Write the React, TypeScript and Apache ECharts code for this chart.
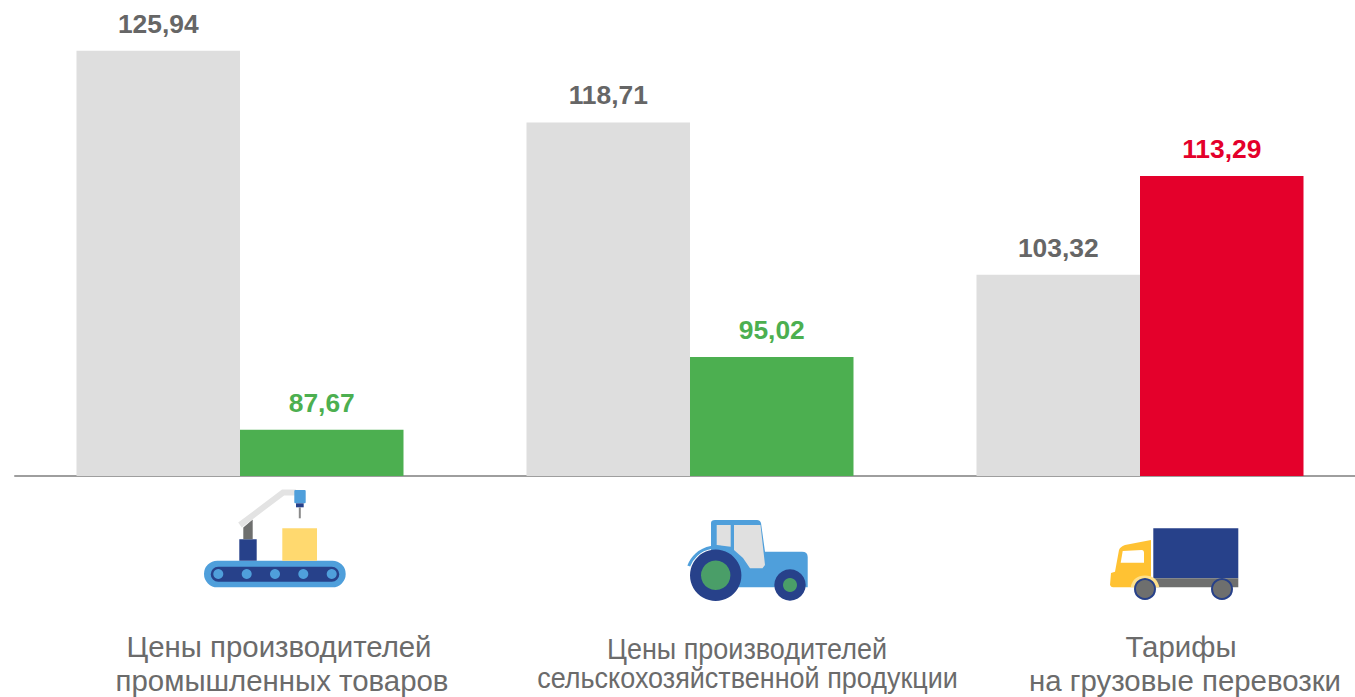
import React, { useEffect, useRef } from "react";
import * as echarts from "echarts";

const categories = ["Промышленность", "Сельское хозяйство", "Грузовые перевозки"];
const baseValues = [125.94, 118.71, 103.32];
const currentValues = [87.67, 95.02, 113.29];
const currentColors = ["#4CAF50", "#4CAF50", "#E4002B"];
const captions = [
  ["Цены производителей", "промышленных товаров"],
  ["Цены производителей", "сельскохозяйственной продукции"],
  ["Тарифы", "на грузовые перевозки"],
];

const BLUE = "#4F9FDB";
const NAVY = "#27418A";
const GREY = "#6E6F6E";

const fmt = (p: any) => Number(p.value).toFixed(2).replace(".", ",");

const tractorBody =
  "M711 523 Q711 520 715 520 L757 520 Q760 520 761 523 L765 551.7 L802 551.7 Q807.7 551.7 807.7 557 L807.7 587.3 L737 587.3 L711 550 Z";
const tractorWinR =
  "M734 525 L760.5 525 L765 565 L762.5 568.3 L750 568.3 L743 558 L734 550 Z";
const truckCab =
  "M1151 540 L1125 545 Q1120 547 1119 550 L1115 571.7 L1111 573 L1110 585 Q1111 587.3 1113 587.3 L1151 587.3 Z";
const truckWin =
  "M1122.7 551 L1141.7 550 Q1144 550 1144 553 L1144 562.7 L1120.7 562.7 Z";
const truckArch = "M1130.7 587.3 Q1133 575.5 1145 575.5 Q1157 575.5 1159.3 587.3 Z";

echarts.graphic.registerShape("tractorBody", echarts.graphic.extendPath(tractorBody as any, {}) as any);
echarts.graphic.registerShape("tractorWinR", echarts.graphic.extendPath(tractorWinR as any, {}) as any);
echarts.graphic.registerShape("truckCab", echarts.graphic.extendPath(truckCab as any, {}) as any);
echarts.graphic.registerShape("truckWin", echarts.graphic.extendPath(truckWin as any, {}) as any);
echarts.graphic.registerShape("truckArch", echarts.graphic.extendPath(truckArch as any, {}) as any);

const rect = (x: number, y: number, w: number, h: number, fill: string, r = 0) => ({
  type: "rect",
  shape: { x, y, width: w, height: h, r },
  style: { fill },
});
const circle = (cx: number, cy: number, r: number, fill: string, stroke?: string, lineWidth = 0) => ({
  type: "circle",
  shape: { cx, cy, r },
  style: { fill, stroke, lineWidth },
});
const poly = (points: number[][], fill: string) => ({
  type: "polygon",
  shape: { points },
  style: { fill },
});
const shape = (type: string, fill: string) => ({ type, x: 0, y: 0, style: { fill } });

const factory = [
  rect(204, 560.7, 141.7, 26.6, BLUE, 13.3),
  rect(210.7, 566.7, 128.6, 15, NAVY, 7.5),
  ...[218.3, 246.7, 275, 303.3, 331.7].map((cx) => circle(cx, 574, 5, BLUE)),
  rect(239.3, 539.3, 17.4, 21.4, NAVY),
  poly([[243.3, 527.5], [252.7, 519.5], [252.7, 539.3], [243.3, 539.3]], GREY),
  {
    type: "polyline",
    shape: { points: [[240, 525], [283, 492.5], [296, 492.5]] },
    style: { stroke: "#E3E3E3", lineWidth: 6, fill: "none" },
  },
  rect(294.3, 490, 11.4, 13.3, BLUE, 1),
  rect(296, 503.3, 7.7, 4, NAVY),
  rect(298.8, 507.3, 2, 11, "#8A8A8A"),
  rect(282.3, 528.3, 34.7, 32.4, "#FFD96F"),
];

const tractor = [
  shape("tractorBody", BLUE),
  poly([[716.7, 525], [730.7, 525], [730.7, 546.7], [716.7, 545]], "#E0E0E0"),
  shape("tractorWinR", "#E0E0E0"),
  {
    type: "arc",
    shape: { cx: 716, cy: 576, r: 29, startAngle: (200 * Math.PI) / 180, endAngle: (320 * Math.PI) / 180 },
    style: { stroke: BLUE, lineWidth: 3, fill: "none" },
  },
  circle(715.7, 575.3, 25.7, NAVY),
  circle(715.7, 575.3, 14.7, "#4A9E68"),
  circle(790, 585, 15.7, NAVY),
  circle(790, 585, 7, "#4A9E68"),
];

const truck = [
  rect(1153.3, 528.3, 85, 50, NAVY),
  rect(1153.3, 578.3, 85, 9, GREY),
  shape("truckCab", "#FFC233"),
  shape("truckWin", "#FFFFFF"),
  shape("truckArch", "#FFE08A"),
  circle(1145, 589, 10, GREY, NAVY, 2),
  circle(1222, 589, 10, GREY, NAVY, 2),
];

const captionLayout = [
  { lines: [{ x: 279, y: 646, scale: 1 }, { x: 282, y: 680, scale: 1 }] },
  { lines: [{ x: 747, y: 649, scale: 0.918 }, { x: 747.5, y: 678, scale: 0.918 }] },
  { lines: [{ x: 1181, y: 646, scale: 1 }, { x: 1185, y: 680, scale: 1 }] },
];

const captionTexts = captions.flatMap((lines, i) =>
  lines.map((text, j) => {
    const l = captionLayout[i].lines[j];
    return {
      type: "text",
      x: l.x,
      y: l.y,
      scaleX: l.scale,
      style: {
        text,
        fill: "#6B6B6B",
        font: "29.4px 'Liberation Sans', Arial, sans-serif",
        textAlign: "center",
        textVerticalAlign: "middle",
      },
    };
  })
);

export default function App() {
  const ref = useRef<HTMLDivElement>(null);
  useEffect(() => {
    document.body.style.margin = "0";
    const chart = echarts.init(ref.current!, undefined, { renderer: "svg" });
    const label = {
      show: true,
      position: "top",
      distance: 14,
      formatter: fmt,
      fontFamily: "'Liberation Sans', Arial, sans-serif",
      fontWeight: "bold",
      fontSize: 26.4,
    };
    chart.setOption({
      animation: false,
      grid: { left: 15, top: 8, width: 1350, height: 468, containLabel: false },
      xAxis: {
        type: "category",
        data: categories,
        axisTick: { show: false },
        axisLabel: { show: false },
        axisLine: { lineStyle: { color: "#9E9E9E", width: 2 } },
      },
      yAxis: { type: "value", min: 83, max: 130.27, show: false, splitLine: { show: false } },
      series: [
        {
          type: "bar",
          data: baseValues,
          barWidth: 163.5,
          barGap: 0,
          itemStyle: { color: "#DEDEDE" },
          label: { ...label, color: "#666666" },
        },
        {
          type: "bar",
          data: currentValues.map((value, i) => ({
            value,
            itemStyle: { color: currentColors[i] },
            label: { color: currentColors[i] },
          })),
          barWidth: 163.5,
          barGap: 0,
          label,
        },
      ],
      graphic: [...factory, ...tractor, ...truck, ...captionTexts],
    });
    return () => chart.dispose();
  }, []);
  return (
    <div style={{ width: 1355, height: 697, overflow: "hidden" }}>
      <div ref={ref} style={{ width: 1375, height: 697 }} />
    </div>
  );
}
